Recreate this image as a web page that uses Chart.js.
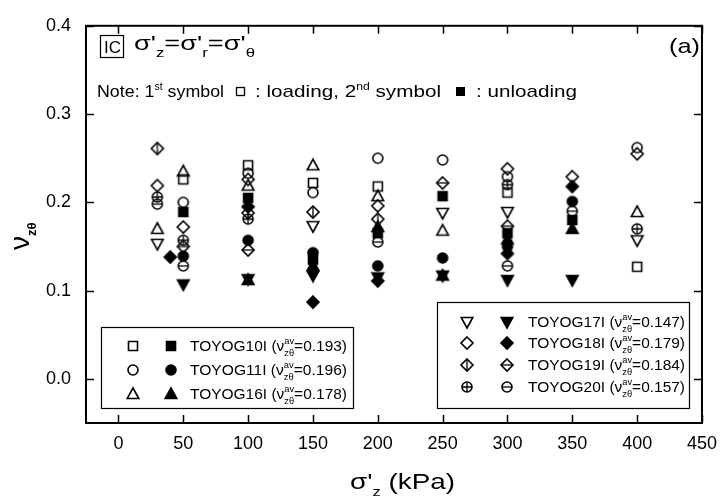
<!DOCTYPE html>
<html>
<head>
<meta charset="utf-8">
<script src="https://cdn.jsdelivr.net/npm/chart.js@4.4.0/dist/chart.umd.min.js"></script>
<style>
  html, body { margin: 0; padding: 0; background: #fff; }
</style>
</head>
<body>
<canvas id="myChart" width="727" height="499"></canvas>
<script>
// stress (kPa) and Poisson's ratio pairs, loading / unloading per test
const g10Load = [[50, 0.226], [100, 0.242], [150, 0.222], [200, 0.218], [300, 0.211], [400, 0.127]];
const g10Unload = [[50, 0.189], [100, 0.205], [150, 0.135], [200, 0.165], [250, 0.207], [300, 0.165], [350, 0.180]];
const g11Load = [[50, 0.200], [100, 0.233], [150, 0.211], [200, 0.250], [250, 0.248], [300, 0.229], [400, 0.262]];
const g11Unload = [[50, 0.139], [100, 0.157], [150, 0.143], [200, 0.128], [250, 0.137], [300, 0.150], [350, 0.201]];
const g16Load = [[30, 0.170], [50, 0.235], [100, 0.219], [150, 0.242], [200, 0.207], [250, 0.168], [400, 0.189]];
const g16Unload = [[100, 0.112], [150, 0.128], [200, 0.172], [250, 0.117], [300, 0.158], [350, 0.170]];
const g17Load = [[30, 0.153], [150, 0.173], [250, 0.188], [300, 0.189], [400, 0.157]];
const g17Unload = [[50, 0.107], [100, 0.113], [150, 0.117], [200, 0.115], [250, 0.117], [300, 0.112], [350, 0.112]];
const g18Load = [[30, 0.219], [50, 0.172], [100, 0.226], [200, 0.196], [300, 0.238], [350, 0.229], [400, 0.255]];
const g18Unload = [[40, 0.138], [100, 0.195], [150, 0.087], [200, 0.111], [300, 0.142], [350, 0.218]];
const g19Load = [[30, 0.261], [100, 0.188], [150, 0.189], [200, 0.181]];
const g19Unload = [[50, 0.150], [100, 0.146], [250, 0.222], [300, 0.173]];
const g20Load = [[30, 0.206], [50, 0.157], [100, 0.181], [300, 0.220], [400, 0.170]];
const g20Unload = [[30, 0.198], [50, 0.128], [200, 0.155], [300, 0.128], [350, 0.190]];

const xTicks = [0, 50, 100, 150, 200, 250, 300, 350, 400, 450];
const yTicks = [0, 0.1, 0.2, 0.3, 0.4];

const testNames = ["TOYOG10I", "TOYOG11I", "TOYOG16I", "TOYOG17I", "TOYOG18I", "TOYOG19I", "TOYOG20I"];
const avgNu = ["0.193", "0.196", "0.178", "0.147", "0.179", "0.184", "0.157"];

const FONT = "'Liberation Sans', Arial, sans-serif";

// little canvases used as point symbols
function makeSymbol(shape, filled, mark) {
  const c = document.createElement("canvas");
  c.width = 16;
  c.height = 16;
  const g = c.getContext("2d");
  g.translate(8, 8);
  g.lineWidth = 1.6;
  g.strokeStyle = "#000";
  g.fillStyle = "#000";
  g.beginPath();
  if (shape === "square") {
    g.rect(-4.5, -4.5, 9, 9);
  } else if (shape === "circle") {
    g.arc(0, 0, 5, 0, Math.PI * 2);
  } else if (shape === "up") {
    g.moveTo(0, -6); g.lineTo(5.8, 4.5); g.lineTo(-5.8, 4.5); g.closePath();
  } else if (shape === "down") {
    g.moveTo(0, 6); g.lineTo(5.8, -4.5); g.lineTo(-5.8, -4.5); g.closePath();
  } else if (shape === "diamond") {
    g.moveTo(0, -6); g.lineTo(6, 0); g.lineTo(0, 6); g.lineTo(-6, 0); g.closePath();
  }
  if (filled) g.fill();
  g.stroke();
  g.lineWidth = 1.3;
  g.beginPath();
  if (mark === "v" || mark === "plus") { g.moveTo(0, -5); g.lineTo(0, 5); }
  if (mark === "h" || mark === "plus") { g.moveTo(-5, 0); g.lineTo(5, 0); }
  g.stroke();
  return c;
}

const sym = {
  sqO: makeSymbol("square", false), sqF: makeSymbol("square", true),
  ciO: makeSymbol("circle", false), ciF: makeSymbol("circle", true),
  upO: makeSymbol("up", false), upF: makeSymbol("up", true),
  dnO: makeSymbol("down", false), dnF: makeSymbol("down", true),
  diO: makeSymbol("diamond", false), diF: makeSymbol("diamond", true),
  diV: makeSymbol("diamond", false, "v"), diH: makeSymbol("diamond", false, "h"),
  ciP: makeSymbol("circle", false, "plus"), ciH: makeSymbol("circle", false, "h")
};

function series(label, pts, style) {
  return {
    label: label,
    data: pts.map(p => ({ x: p[0], y: p[1] })),
    pointStyle: style,
    pointRadius: 5,
    pointHoverRadius: 5,
    showLine: false
  };
}

const datasets = [
  series("TOYOG10I loading", g10Load, sym.sqO),
  series("TOYOG10I unloading", g10Unload, sym.sqF),
  series("TOYOG11I loading", g11Load, sym.ciO),
  series("TOYOG11I unloading", g11Unload, sym.ciF),
  series("TOYOG16I loading", g16Load, sym.upO),
  series("TOYOG16I unloading", g16Unload, sym.upF),
  series("TOYOG17I loading", g17Load, sym.dnO),
  series("TOYOG17I unloading", g17Unload, sym.dnF),
  series("TOYOG18I loading", g18Load, sym.diO),
  series("TOYOG18I unloading", g18Unload, sym.diF),
  series("TOYOG19I loading", g19Load, sym.diV),
  series("TOYOG19I unloading", g19Unload, sym.diH),
  series("TOYOG20I loading", g20Load, sym.ciP),
  series("TOYOG20I unloading", g20Unload, sym.ciH)
];

// text run with sub/superscripts; parts = [text, size, dy, stackNext, bold]
function rich(ctx, x, y, parts) {
  let cx = x;
  let held = 0;
  parts.forEach(p => {
    ctx.font = (p[4] ? "bold " : "") + p[1] + "px " + FONT;
    ctx.fillText(p[0], cx, y + (p[2] || 0));
    const w = ctx.measureText(p[0]).width;
    if (p[3]) {
      held = w;
    } else {
      cx += Math.max(w, held);
      held = 0;
    }
  });
  return cx;
}

function richWidth(ctx, parts) {
  let w = 0;
  let held = 0;
  parts.forEach(p => {
    ctx.font = (p[4] ? "bold " : "") + p[1] + "px " + FONT;
    const pw = ctx.measureText(p[0]).width;
    if (p[3]) { held = pw; } else { w += Math.max(pw, held); held = 0; }
  });
  return w;
}

// same as rich, stretched sideways to span a given width
function richFit(ctx, x, y, parts, width) {
  const sx = width / richWidth(ctx, parts);
  ctx.save();
  ctx.translate(x, y);
  ctx.scale(sx, 1);
  rich(ctx, 0, 0, parts);
  ctx.restore();
}

function stamp(ctx, s, x, y) {
  ctx.drawImage(s, Math.round(x - 8), Math.round(y - 8));
}

function legendRow(ctx, y, open, filled, xo, xf, xt, name, avg) {
  stamp(ctx, open, xo, y);
  stamp(ctx, filled, xf, y);
  richFit(ctx, xt, y + 5, [
    [name + " (ν", 15], ["av", 9, -7, true], ["zθ", 9, 5], ["=" + avg + ")", 15]
  ], 157);
}

const framePlugin = {
  id: "frame",
  beforeDatasetsDraw(chart) {
    const { ctx, chartArea: a, scales: { x, y } } = chart;
    ctx.save();
    ctx.strokeStyle = "#000";
    ctx.lineWidth = 2;
    ctx.strokeRect(a.left, a.top, a.right - a.left, a.bottom - a.top);
    ctx.lineWidth = 1.5;
    ctx.beginPath();
    xTicks.forEach(v => {
      const px = Math.round(x.getPixelForValue(v)) + 0.5;
      ctx.moveTo(px, a.bottom); ctx.lineTo(px, a.bottom - 8);
      ctx.moveTo(px, a.top); ctx.lineTo(px, a.top + 8);
    });
    yTicks.forEach(v => {
      const py = Math.round(y.getPixelForValue(v)) + 0.5;
      ctx.moveTo(a.left, py); ctx.lineTo(a.left + 8, py);
      ctx.moveTo(a.right, py); ctx.lineTo(a.right - 8, py);
    });
    ctx.stroke();
    ctx.restore();
  },
  afterDraw(chart) {
    const ctx = chart.ctx;
    ctx.save();
    ctx.fillStyle = "#000";
    ctx.strokeStyle = "#000";
    ctx.textBaseline = "alphabetic";
    ctx.textAlign = "left";

    // header
    ctx.lineWidth = 1.2;
    ctx.strokeRect(100.5, 35.5, 23, 22);
    ctx.font = "17px " + FONT;
    ctx.fillText("IC", 104, 53);
    richFit(ctx, 134, 50, [
      ["σ'", 21], ["z", 13, 7], ["=σ'", 21], ["r", 13, 7], ["=σ'", 21], ["θ", 13, 7]
    ], 121);
    richFit(ctx, 669, 53, [["(a)", 21]], 31);

    richFit(ctx, 97, 97, [["Note: 1", 17], ["st", 10, -7], [" symbol", 17]], 127);
    ctx.lineWidth = 1.3;
    ctx.strokeRect(236.5, 87.5, 8, 8);
    richFit(ctx, 255, 97, [[": loading, 2", 17], ["nd", 10, -7], [" symbol", 17]], 186);
    ctx.fillRect(456, 87, 9, 9);
    richFit(ctx, 476, 97, [[": unloading", 17]], 101);

    // legend boxes
    ctx.lineWidth = 1.2;
    ctx.strokeRect(101.5, 327.5, 252, 81);
    legendRow(ctx, 346, sym.sqO, sym.sqF, 133, 171, 190, testNames[0], avgNu[0]);
    legendRow(ctx, 370, sym.ciO, sym.ciF, 133, 171, 190, testNames[1], avgNu[1]);
    legendRow(ctx, 394, sym.upO, sym.upF, 133, 171, 190, testNames[2], avgNu[2]);

    ctx.strokeRect(437.5, 302.5, 252, 106);
    legendRow(ctx, 322, sym.dnO, sym.dnF, 467, 507, 528, testNames[3], avgNu[3]);
    legendRow(ctx, 343, sym.diO, sym.diF, 467, 507, 528, testNames[4], avgNu[4]);
    legendRow(ctx, 365, sym.diV, sym.diH, 467, 507, 528, testNames[5], avgNu[5]);
    legendRow(ctx, 387, sym.ciP, sym.ciH, 467, 507, 528, testNames[6], avgNu[6]);

    // axis titles
    richFit(ctx, 350, 489, [["σ'", 22], ["z", 13, 7], [" (kPa)", 22]], 105);

    ctx.translate(29, 250);
    ctx.rotate(-Math.PI / 2);
    rich(ctx, 0, 0, [["ν", 28], ["zθ", 13, 7, false, true]]);
    ctx.restore();
  }
};

new Chart(document.getElementById("myChart"), {
  type: "scatter",
  data: { datasets: datasets },
  plugins: [framePlugin],
  options: {
    responsive: false,
    animation: false,
    devicePixelRatio: 1,
    layout: { padding: { left: 0, top: 18, right: 17, bottom: 0 } },
    plugins: {
      legend: { display: false },
      tooltip: { enabled: false }
    },
    scales: {
      x: {
        type: "linear",
        min: -25,
        max: 450,
        afterBuildTicks: s => { s.ticks = xTicks.map(v => ({ value: v })); },
        afterFit: s => { s.height = 76; },
        grid: { display: false, drawTicks: false },
        border: { display: false },
        ticks: {
          color: "#000",
          font: { family: FONT, size: 18 },
          padding: 10,
          maxRotation: 0,
          autoSkip: false
        }
      },
      y: {
        type: "linear",
        min: -0.05,
        max: 0.4,
        afterBuildTicks: s => { s.ticks = yTicks.map(v => ({ value: v })); },
        afterFit: s => { s.width = 86; },
        grid: { display: false, drawTicks: false },
        border: { display: false },
        ticks: {
          color: "#000",
          font: { family: FONT, size: 18 },
          padding: 15,
          callback: v => v.toFixed(1)
        }
      }
    }
  }
});
</script>
</body>
</html>
